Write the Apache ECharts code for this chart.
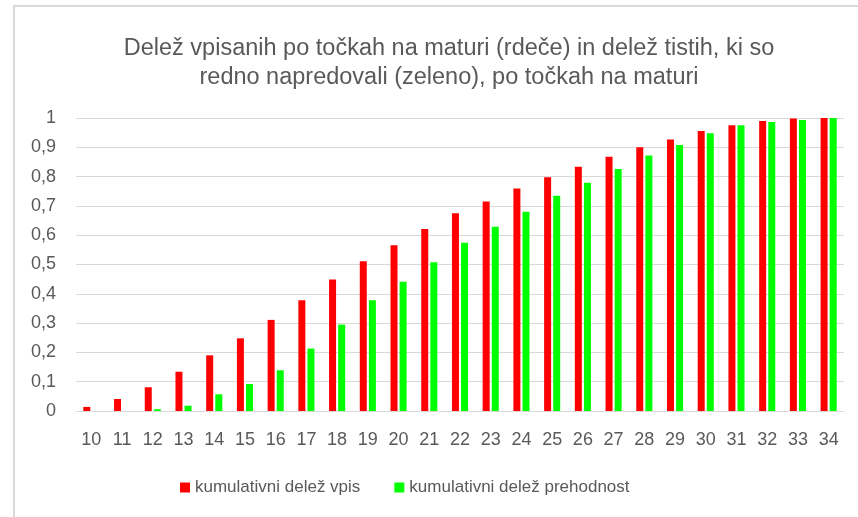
<!DOCTYPE html>
<html>
<head>
<meta charset="utf-8">
<script src="https://cdn.jsdelivr.net/npm/echarts@6/dist/echarts.min.js"></script>
<style>
  html, body { margin: 0; padding: 0; background: #fff; }
  #frame { position: absolute; left: 13px; top: 5px; width: 900px; height: 600px;
           border-top: 2px solid #d9d9d9; border-left: 2px solid #d9d9d9; }
  #chart { position: absolute; left: 0; top: 0; width: 858px; height: 517px; }
</style>
</head>
<body>
<div id="frame"></div>
<div id="chart"></div>
<script>
// točke na maturi
const categories = ['10', '11', '12', '13', '14', '15', '16', '17', '18', '19', '20', '21', '22',
  '23', '24', '25', '26', '27', '28', '29', '30', '31', '32', '33', '34'];
// kumulativni delež vpis (rdeče)
const vpis = [0.014, 0.041, 0.081, 0.134, 0.19, 0.248, 0.311, 0.378, 0.449, 0.511, 0.566, 0.621, 0.675,
  0.715, 0.759, 0.798, 0.834, 0.868, 0.9, 0.927, 0.956, 0.975, 0.99, 0.998, 1.0];
// kumulativni delež prehodnost (zeleno)
const prehodnost = [0, 0, 0.006, 0.018, 0.057, 0.092, 0.139, 0.213, 0.295, 0.378, 0.441, 0.508, 0.574,
  0.629, 0.68, 0.735, 0.779, 0.826, 0.872, 0.908, 0.948, 0.975, 0.986, 0.993, 1.0];

const textColor = '#595959';
const font = '"Liberation Sans", Arial, sans-serif';

const chart = echarts.init(document.getElementById('chart'));

const option = {
  animation: false,
  textStyle: { fontFamily: font },
  title: {
    text: 'Delež vpisanih po točkah na maturi (rdeče) in delež tistih, ki so\nredno napredovali (zeleno), po točkah na maturi',
    left: 444,
    top: 29,
    textAlign: 'center',
    textStyle: {
      color: textColor,
      fontSize: 23.5,
      fontWeight: 'normal',
      lineHeight: 29,
      fontFamily: font
    }
  },
  legend: {
    data: ['kumulativni delež vpis', 'kumulativni delež prehodnost'],
    left: 175,
    top: 474,
    itemWidth: 10,
    itemHeight: 10,
    itemGap: 34,
    icon: 'rect',
    textStyle: { color: textColor, fontSize: 17 }
  },
  grid: {
    left: 76,
    right: 14,
    top: 118,
    bottom: 106,
    containLabel: false
  },
  xAxis: {
    type: 'category',
    data: categories,
    axisLine: { lineStyle: { color: '#d9d9d9', width: 1 } },
    axisTick: { show: false },
    axisLabel: { color: textColor, fontSize: 18, margin: 20 }
  },
  yAxis: {
    type: 'value',
    min: 0,
    max: 1,
    interval: 0.1,
    axisLine: { show: false },
    axisTick: { show: false },
    splitLine: { lineStyle: { color: '#d9d9d9', width: 1 } },
    axisLabel: {
      color: textColor,
      fontSize: 18,
      margin: 20,
      formatter: function (v) {
        return String(Math.round(v * 10) / 10).replace('.', ',');
      }
    }
  },
  series: [
    {
      name: 'kumulativni delež vpis',
      type: 'bar',
      data: vpis,
      barWidth: 7,
      barGap: '30%',
      itemStyle: { color: '#ff0000' }
    },
    {
      name: 'kumulativni delež prehodnost',
      type: 'bar',
      data: prehodnost,
      barWidth: 7,
      itemStyle: { color: '#00ff00' }
    }
  ]
};

chart.setOption(option);
</script>
</body>
</html>
